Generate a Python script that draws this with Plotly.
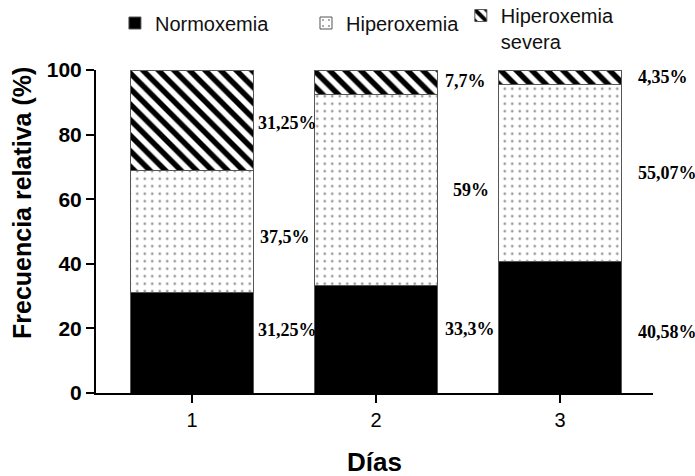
import plotly.graph_objects as go

dias = [1, 2, 3]
normoxemia = [31.25, 33.3, 40.58]
hiperoxemia = [37.5, 59, 55.07]
severa = [31.25, 7.7, 4.35]
lbl_normo = ["31,25%", "33,3%", "40,58%"]
lbl_hiper = ["37,5%", "59%", "55,07%"]
lbl_sev = ["31,25%", "7,7%", "4,35%"]
y_ticks = [0, 20, 40, 60, 80, 100]

# styling: label pixel shifts
xs_normo = [64, 67, 76]
xs_hiper = [66, 75, 76]
xs_sev = [64, 67, 76]
ys_normo = [13, 10, -5]
ys_hiper = [-5, 0, 0]
ys_sev = [-3, 1, 0]

line = dict(color="#555555", width=1)
fig = go.Figure()
fig.add_trace(go.Bar(x=dias, y=normoxemia, name="Normoxemia", width=0.67,
                     marker=dict(color="black", line=line), legend="legend"))
fig.add_trace(go.Bar(x=dias, y=hiperoxemia, name="Hiperoxemia", width=0.67,
                     marker=dict(color="white", line=line,
                                 pattern=dict(shape=".", fgcolor="#999999", bgcolor="white",
                                              size=7.5, solidity=0.1, fgopacity=1)),
                     legend="legend2"))
fig.add_trace(go.Bar(x=dias, y=severa, name="Hiperoxemia<br>severa", width=0.67,
                     marker=dict(color="white", line=line,
                                 pattern=dict(shape="\\", fgcolor="black", bgcolor="white",
                                              size=11, solidity=0.5, fgopacity=1)),
                     legend="legend3"))

annots = []
lab_font = dict(family="Liberation Serif", size=18, color="black", weight="bold")
for i, d in enumerate(dias):
    n, h, s = normoxemia[i], hiperoxemia[i], severa[i]
    for yc, txt, xs, ys in [(n / 2, lbl_normo[i], xs_normo[i], ys_normo[i]),
                            (n + h / 2, lbl_hiper[i], xs_hiper[i], ys_hiper[i]),
                            (n + h + s / 2, lbl_sev[i], xs_sev[i], ys_sev[i])]:
        annots.append(dict(x=d, y=yc, xref="x", yref="y", text=txt, showarrow=False,
                           xanchor="left", yanchor="middle", xshift=xs, yshift=ys,
                           font=lab_font))

annots.append(dict(x=-0.133, y=0.588, xref="paper", yref="paper",
                   text="Frecuencia relativa (%)", textangle=-90, showarrow=False,
                   xanchor="center", yanchor="middle",
                   font=dict(family="Liberation Sans", size=25, color="black", weight="bold")))
annots.append(dict(x=0.5, y=-0.215, xref="paper", yref="paper", text="Días",
                   showarrow=False, xanchor="center", yanchor="middle",
                   font=dict(family="Liberation Sans", size=26, color="black", weight="bold")))

leg_font = dict(family="Liberation Sans", size=20, color="#111111")
fig.update_layout(
    width=695, height=476,
    margin=dict(l=96, r=42, t=70, b=83, autoexpand=False),
    paper_bgcolor="white", plot_bgcolor="white",
    barmode="stack",
    showlegend=True,
    legend=dict(orientation="h", x=0.034, y=1.1455,
                xanchor="left", yanchor="middle", font=leg_font, bgcolor="rgba(0,0,0,0)"),
    legend2=dict(orientation="h", x=0.377, y=1.1455,
                 xanchor="left", yanchor="middle", font=leg_font, bgcolor="rgba(0,0,0,0)"),
    legend3=dict(orientation="h", x=0.655, y=1.229,
                 xanchor="left", yanchor="top", font=leg_font, bgcolor="rgba(0,0,0,0)",
                 valign="top"),
    xaxis=dict(range=[0.478, 3.505], tickvals=dias, ticktext=[str(d) for d in dias],
               showline=True, linecolor="black", linewidth=2, ticks="outside",
               ticklen=8, tickwidth=2, tickcolor="black", showgrid=False, zeroline=False,
               tickfont=dict(family="Liberation Sans", size=20, color="black")),
    yaxis=dict(range=[0, 100], tickvals=y_ticks, showline=True,
               linecolor="black", linewidth=2, ticks="outside", ticklen=8, tickwidth=2,
               tickcolor="black", showgrid=False, zeroline=False,
               tickfont=dict(family="Liberation Sans", size=21, color="black", weight="bold")),
    annotations=annots,
)
fig.write_html("out.html", config={"displayModeBar": False},
               post_script="document.body.style.margin='0px';")
